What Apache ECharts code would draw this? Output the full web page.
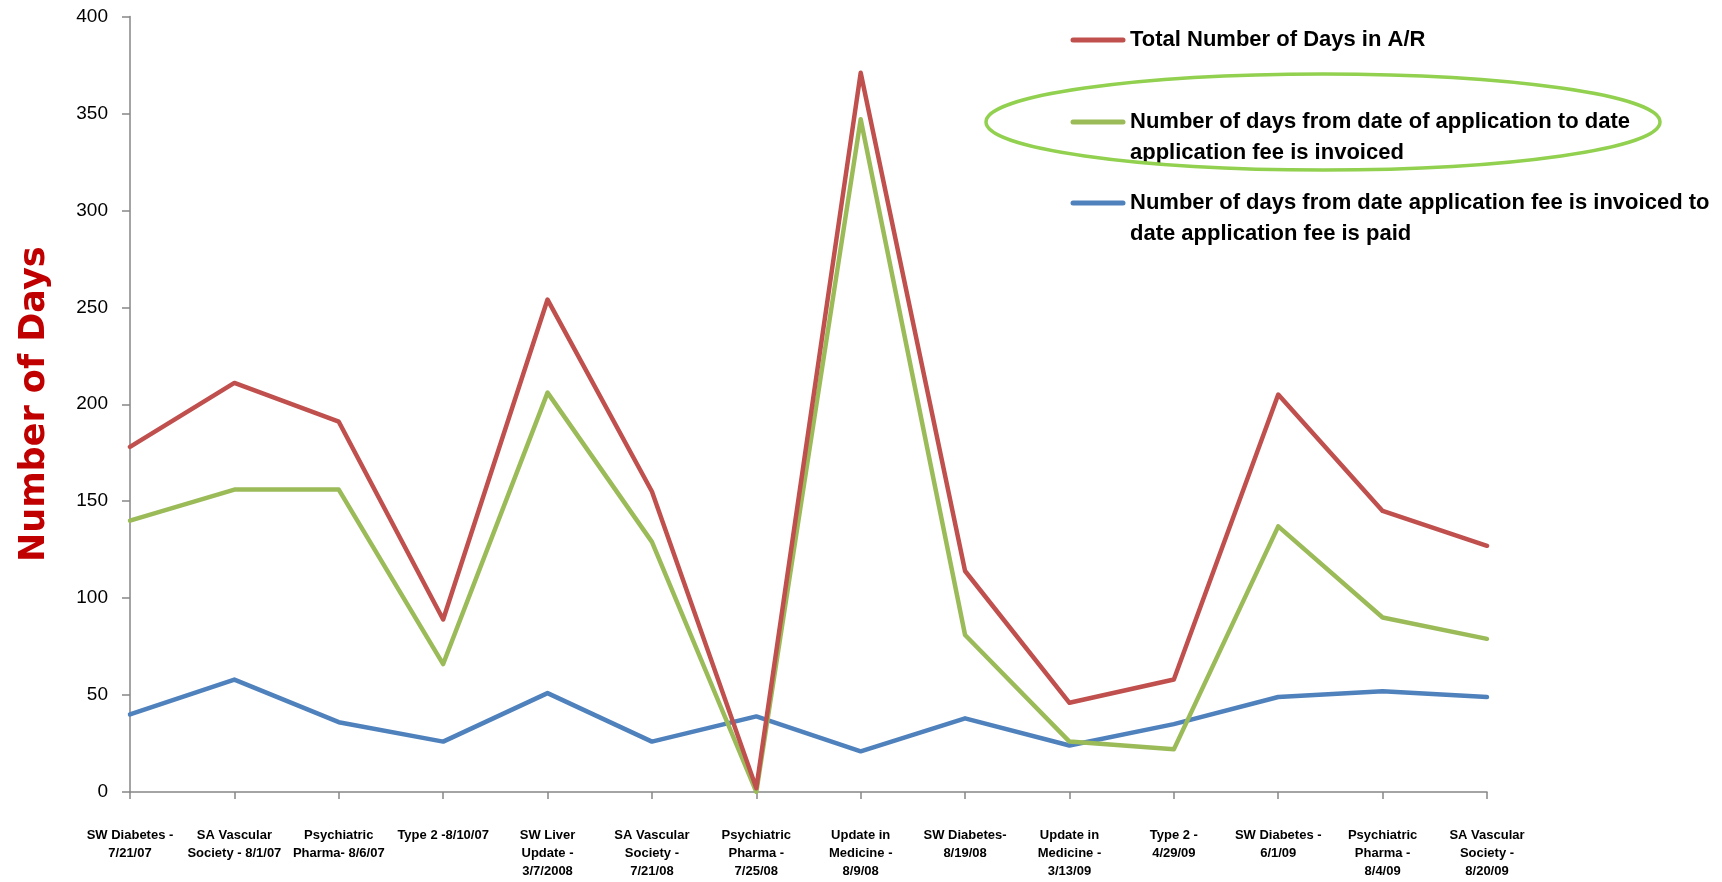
<!DOCTYPE html>
<html>
<head>
<meta charset="utf-8">
<script src="https://cdn.jsdelivr.net/npm/echarts@6/dist/echarts.min.js"></script>
<style>
  html, body { margin: 0; padding: 0; background: #fff; }
  #chart { width: 1722px; height: 882px; }
</style>
</head>
<body>
<div id="chart"></div>
<script>
// Meetings (category axis labels, wrapped as printed)
const categories = [
  'SW Diabetes -\n7/21/07',
  'SA Vascular\nSociety - 8/1/07',
  'Psychiatric\nPharma- 8/6/07',
  'Type 2 -8/10/07',
  'SW Liver\nUpdate -\n3/7/2008',
  'SA Vascular\nSociety -\n7/21/08',
  'Psychiatric\nPharma -\n7/25/08',
  'Update in\nMedicine -\n8/9/08',
  'SW Diabetes-\n8/19/08',
  'Update in\nMedicine -\n3/13/09',
  'Type 2 -\n4/29/09',
  'SW Diabetes -\n6/1/09',
  'Psychiatric\nPharma -\n8/4/09',
  'SA Vascular\nSociety -\n8/20/09'
];

const totalDaysAR = [178, 211, 191, 89, 254, 155, 2, 371, 114, 46, 58, 205, 145, 127];
const daysAppToInvoice = [140, 156, 156, 66, 206, 129, 0, 347, 81, 26, 22, 137, 90, 79];
const daysInvoiceToPaid = [40, 58, 36, 26, 51, 26, 39, 21, 38, 24, 35, 49, 52, 49];

const seriesNames = [
  'Total Number of Days in A/R',
  'Number of days from date of application to date\napplication fee is invoiced',
  'Number of days from date application fee is invoiced to\ndate application fee is paid'
];
const seriesColors = ['#C0504D', '#9BBB59', '#4F81BD'];
const seriesData = [totalDaysAR, daysAppToInvoice, daysInvoiceToPaid];

const yTicks = { min: 0, max: 400, interval: 50 };

const sans = "'Liberation Sans', Arial, sans-serif";

// Legend drawn as line swatches with wrapped bold labels
const legendRows = [40, 122, 203];
const legendGraphics = [];
seriesNames.forEach((name, i) => {
  const y = legendRows[i];
  legendGraphics.push({
    type: 'line',
    shape: { x1: 1073, y1: y, x2: 1123, y2: y },
    style: { stroke: seriesColors[i], lineWidth: 5, lineCap: 'round' },
    silent: true
  });
  legendGraphics.push({
    type: 'text',
    x: 1130,
    y: y - 15.5,
    style: {
      text: name,
      font: 'bold 22px ' + sans,
      fill: '#000',
      lineHeight: 31,
      textVerticalAlign: 'top'
    },
    silent: true
  });
});

// Highlight ring around the second legend entry
legendGraphics.push({
  type: 'ellipse',
  shape: { cx: 1323, cy: 122, rx: 337, ry: 48 },
  style: { fill: 'none', stroke: '#92D050', lineWidth: 3.5 },
  silent: true,
  z: 10
});

const chart = echarts.init(document.getElementById('chart'), null, { renderer: 'canvas' });
chart.setOption({
  animation: false,
  backgroundColor: '#fff',
  grid: { left: 130, right: 235, top: 16.5, bottom: 90, containLabel: false },
  xAxis: {
    type: 'category',
    data: categories,
    boundaryGap: false,
    axisLine: { lineStyle: { color: '#868686', width: 1.5 } },
    axisTick: { show: true, length: 7, lineStyle: { color: '#868686', width: 1.5 } },
    axisLabel: {
      interval: 0,
      margin: 35,
      color: '#000',
      fontFamily: sans,
      fontWeight: 'bold',
      fontSize: 13,
      lineHeight: 17.6,
      align: 'center'
    },
    splitLine: { show: false }
  },
  yAxis: {
    type: 'value',
    min: yTicks.min,
    max: yTicks.max,
    interval: yTicks.interval,
    name: 'Number of Days',
    nameLocation: 'middle',
    nameGap: 78,
    nameRotate: 90,
    nameTextStyle: {
      color: '#C00000',
      fontFamily: "'DejaVu Sans', sans-serif",
      fontWeight: 'bold',
      fontSize: 35
    },
    axisLine: { show: true, lineStyle: { color: '#868686', width: 1.5 } },
    axisTick: { show: true, length: 8, lineStyle: { color: '#868686', width: 1.5 } },
    axisLabel: {
      margin: 22,
      color: '#000',
      fontFamily: sans,
      fontSize: 19
    },
    splitLine: { show: false }
  },
  series: seriesData.map((d, i) => ({
    name: seriesNames[i],
    type: 'line',
    data: d,
    symbol: 'none',
    lineStyle: { color: seriesColors[i], width: 4.5, cap: 'round', join: 'round' },
    itemStyle: { color: seriesColors[i] },
    z: 3 - i
  })),
  graphic: legendGraphics
});
</script>
</body>
</html>
